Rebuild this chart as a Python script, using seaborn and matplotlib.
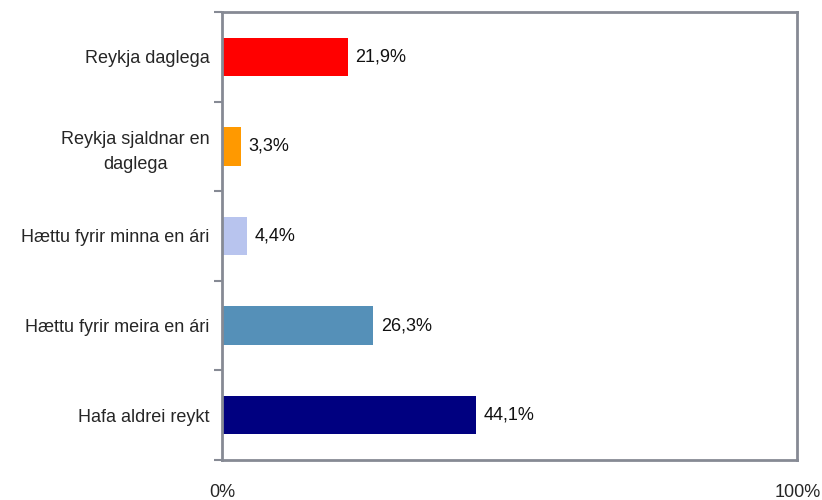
import pandas as pd
import matplotlib
matplotlib.use("Agg")
import matplotlib.pyplot as plt
import seaborn as sns
from matplotlib import font_manager

# Données
categories = ["Reykja daglega", "Reykja sjaldnar en\ndaglega", "Hættu fyrir minna en ári",
              "Hættu fyrir meira en ári", "Hafa aldrei reykt"]
values = [21.9, 3.3, 4.4, 26.3, 44.1]
colors = ["#FF0000", "#FF9900", "#B8C4EE", "#5590B8", "#000080"]
value_labels = ["21,9%", "3,3%", "4,4%", "26,3%", "44,1%"]

sns.set_style("white")
names = {f.name for f in font_manager.fontManager.ttflist}
font = "Liberation Sans Narrow" if "Liberation Sans Narrow" in names else "Liberation Sans"
plt.rcParams["font.family"] = [font, "DejaVu Sans"]

df = pd.DataFrame({"cat": categories, "val": values})

fig = plt.figure(figsize=(8.22, 5), dpi=100)
ax = fig.add_axes([0.270, 0.08, 0.700, 0.896])
sns.barplot(data=df, y="cat", x="val", hue="cat", palette=colors, order=categories,
            hue_order=categories, width=0.43, legend=False, ax=ax, saturation=1,
            linewidth=0)

for i, (v, lab) in enumerate(zip(values, value_labels)):
    ax.text(v + 1.3, i, lab, va="center", ha="left", fontsize=13, color="#111111")

ax.set_xlim(0, 100)
ax.set_ylim(4.5, -0.5)
ax.set_xticks([0, 100])
ax.set_xticklabels(["0%", "100%"], fontsize=13)
ax.set_yticks([-0.5, 0.5, 1.5, 2.5, 3.5, 4.5], minor=True)
ax.set_yticks(range(len(categories)))
ax.set_yticklabels(categories, fontsize=13, multialignment="center", linespacing=1.6)
ax.tick_params(axis="y", which="major", length=0, pad=9)
ax.tick_params(axis="y", which="minor", length=6, width=1.5, color="#868A94", left=True)
ax.tick_params(axis="x", length=0, pad=17)
ax.set_xlabel("")
ax.set_ylabel("")

for s in ax.spines.values():
    s.set_visible(True)
    s.set_color("#868A94")
    s.set_linewidth(2)

fig.savefig("out.png", dpi=100)
